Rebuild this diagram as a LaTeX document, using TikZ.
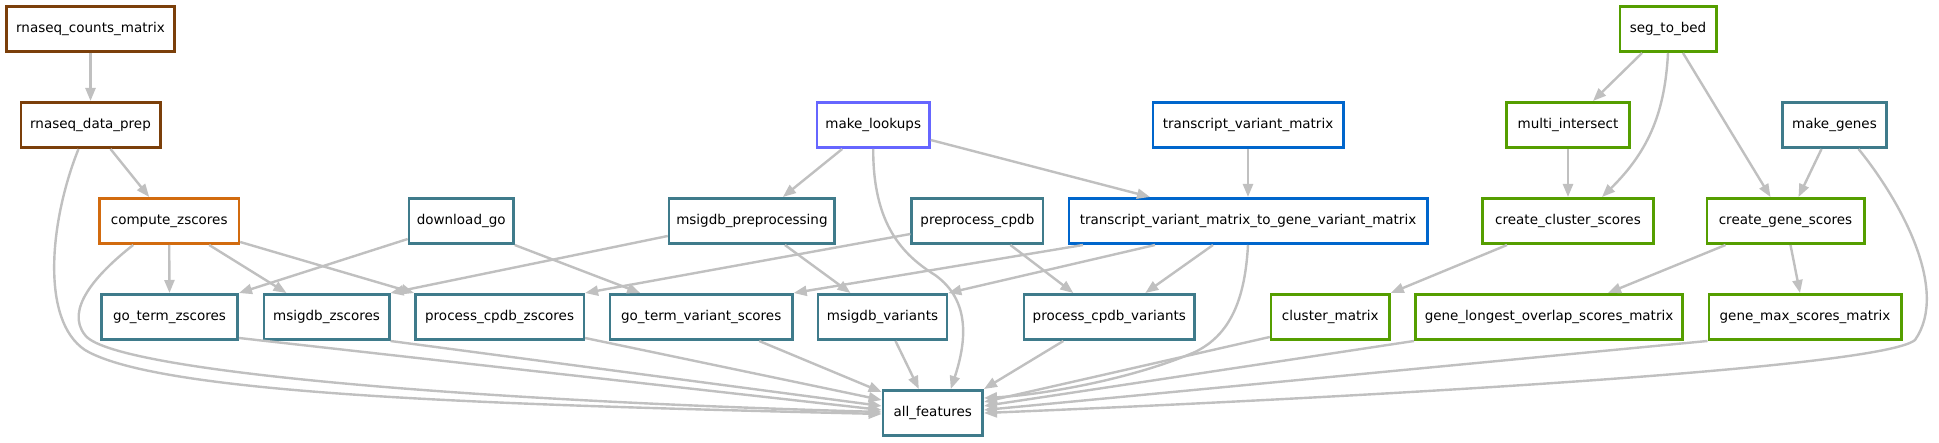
\documentclass[tikz,border=0pt]{standalone}
\usepackage{fontspec}
\setmainfont{DejaVu Sans}
\usetikzlibrary{arrows.meta}
\definecolor{cbrown}{HTML}{7B3F0A}
\definecolor{corange}{HTML}{D26B0F}
\definecolor{cteal}{HTML}{3F7B8B}
\definecolor{cblue}{HTML}{0066CC}
\definecolor{cpurple}{HTML}{6666FF}
\definecolor{cgreen}{HTML}{559E00}
\definecolor{edgec}{HTML}{C0C0C0}
\tikzset{
  rule/.style={draw, rectangle, line width=2.6pt, fill=white, minimum height=45.4pt, inner sep=0pt, font=\fontsize{13.5}{16}\selectfont, text=black},
  dep/.style={draw=edgec, line width=2.4pt, -{Triangle[length=13pt,width=10pt]}},
}
\begin{document}
\begin{tikzpicture}[x=1pt,y=-1pt]
\fill[white] (0,0) rectangle (1939,443);
\useasboundingbox (0,0) rectangle (1939,443);
% nodes
\node[rule, draw=cbrown, minimum width=168.4pt] (rcm) at (90.5,29) {rnaseq\_counts\_matrix};
\node[rule, draw=cbrown, minimum width=139.4pt] (rdp) at (90.5,125) {rnaseq\_data\_prep};
\node[rule, draw=corange, minimum width=139.4pt] (cz) at (169.2,221) {compute\_zscores};
\node[rule, draw=cteal, minimum width=104.4pt] (dgo) at (461.2,221) {download\_go};
\node[rule, draw=cteal, minimum width=136.4pt] (gtz) at (169.5,317) {go\_term\_zscores};
\node[rule, draw=cteal, minimum width=125.4pt] (mz) at (326.5,317) {msigdb\_zscores};
\node[rule, draw=cteal, minimum width=168.4pt] (pcz) at (499.6,317) {process\_cpdb\_zscores};
\node[rule, draw=cpurple, minimum width=112.4pt] (ml) at (873.2,125) {make\_lookups};
\node[rule, draw=cteal, minimum width=165.7pt] (mp) at (751.9,221) {msigdb\_preprocessing};
\node[rule, draw=cteal, minimum width=131.4pt] (pc) at (977.4,221) {preprocess\_cpdb};
\node[rule, draw=cteal, minimum width=182.4pt] (gtv) at (701.2,317) {go\_term\_variant\_scores};
\node[rule, draw=cteal, minimum width=129pt] (mv) at (882.5,317) {msigdb\_variants};
\node[rule, draw=cteal, minimum width=170.8pt] (pcv) at (1109.3,317) {process\_cpdb\_variants};
\node[rule, draw=cteal, minimum width=99.8pt] (af) at (932.8,413) {all\_features};
\node[rule, draw=cblue, minimum width=190.4pt] (tvm) at (1248,125) {transcript\_variant\_matrix};
\node[rule, draw=cblue, minimum width=358.4pt] (tg) at (1248,221) {transcript\_variant\_matrix\_to\_gene\_variant\_matrix};
\node[rule, draw=cgreen, minimum width=118.4pt] (cm) at (1330.3,317) {cluster\_matrix};
\node[rule, draw=cgreen, minimum width=267.4pt] (glo) at (1549,317) {gene\_longest\_overlap\_scores\_matrix};
\node[rule, draw=cgreen, minimum width=96.4pt] (stb) at (1668,29) {seg\_to\_bed};
\node[rule, draw=cgreen, minimum width=123.4pt] (mi) at (1568,125) {multi\_intersect};
\node[rule, draw=cteal, minimum width=104.4pt] (mg) at (1834.5,125) {make\_genes};
\node[rule, draw=cgreen, minimum width=171.4pt] (ccs) at (1568,221) {create\_cluster\_scores};
\node[rule, draw=cgreen, minimum width=157.4pt] (cgs) at (1785.5,221) {create\_gene\_scores};
\node[rule, draw=cgreen, minimum width=192.4pt] (gms) at (1805,317) {gene\_max\_scores\_matrix};
% edges
\draw[dep] (rcm.south) -- (rdp.north);
\draw[dep] ([xshift=20pt]rdp.south) -- ([xshift=-20pt]cz.north);
\draw[dep] ([xshift=-12pt]rdp.south) .. controls (50,220) and (40,320) .. (85,350) .. controls (160,395) and (500,405) .. ([yshift=-1pt]af.west);
\draw[dep] ([xshift=-36pt]cz.south) .. controls (95,275) and (65,310) .. (85,335) .. controls (110,370) and (450,400) .. ([yshift=1pt]af.west);
\draw[dep] (cz.south) -- (gtz.north);
\draw[dep] ([xshift=40pt]cz.south) -- ([xshift=-40pt]mz.north);
\draw[dep] ([yshift=-21pt]cz.east) -- (pcz.north west);
\draw[dep] ([yshift=-18pt]dgo.west) -- (gtz.north east);
\draw[dep] (dgo.south east) -- ([xshift=-61pt]gtv.north);
\draw[dep] ([yshift=-15pt]mp.west) -- (mz.north east);
\draw[dep] ([xshift=33pt]mp.south) -- ([xshift=-32pt]mv.north);
\draw[dep] ([xshift=-31pt]ml.south) -- ([xshift=31pt]mp.north);
\draw[dep] (ml.south) .. controls (873,225) and (903,255) .. (935,275) .. controls (970,300) and (967,340) .. ([xshift=18pt]af.north);
\draw[dep] ([yshift=-15pt]ml.east) -- ([xshift=-98pt]tg.north);
\draw[dep] ([yshift=-13pt]pc.west) -- (pcz.north east);
\draw[dep] ([xshift=33pt]pc.south) -- ([xshift=-36pt]pcv.north);
\draw[dep] (tvm.south) -- (tg.north);
\draw[dep] ([xshift=-165pt]tg.south) -- (gtv.north east);
\draw[dep] ([xshift=-93pt]tg.south) -- (mv.north east);
\draw[dep] ([xshift=-35pt]tg.south) -- ([xshift=36pt]pcv.north);
\draw[dep] (tg.south) .. controls (1245,300) and (1230,335) .. (1195,352) .. controls (1130,380) and (1040,395) .. ([yshift=15pt]af.east);
\draw[dep] ([xshift=-46pt]pcv.south) -- (af.north east);
\draw[dep] ([yshift=-21pt]gtz.east) -- ([yshift=3pt]af.west);
\draw[dep] (mz.south east) -- ([yshift=7pt]af.west);
\draw[dep] ([yshift=-21pt]pcz.east) -- ([yshift=13pt]af.west);
\draw[dep] ([xshift=58pt]gtv.south) -- ([yshift=21pt]af.west);
\draw[dep] ([xshift=13pt]mv.south) -- ([xshift=-14pt]af.north);
\draw[dep] ([yshift=-20pt]cm.west) -- ([yshift=11pt]af.east);
\draw[dep] (glo.south west) -- ([yshift=7pt]af.east);
\draw[dep] (gms.south west) -- ([yshift=3pt]af.east);
\draw[dep] ([xshift=24pt]mg.south) .. controls (1900,200) and (1950,290) .. (1915,340) .. controls (1880,370) and (1300,400) .. (af.east);
\draw[dep] ([xshift=-26pt]stb.south) -- ([xshift=25pt]mi.north);
\draw[dep] (stb.south) .. controls (1665,110) and (1650,150) .. ([xshift=34pt]ccs.north);
\draw[dep] ([xshift=15pt]stb.south) -- ([xshift=-15pt]cgs.north);
\draw[dep] (mi.south) -- (ccs.north);
\draw[dep] ([xshift=-13pt]mg.south) -- ([xshift=13pt]cgs.north);
\draw[dep] ([xshift=-61pt]ccs.south) -- (cm.north east);
\draw[dep] ([xshift=-60pt]cgs.south) -- ([xshift=59pt]glo.north);
\draw[dep] ([xshift=5pt]cgs.south) -- ([xshift=-5pt]gms.north);
\end{tikzpicture}
\end{document}
